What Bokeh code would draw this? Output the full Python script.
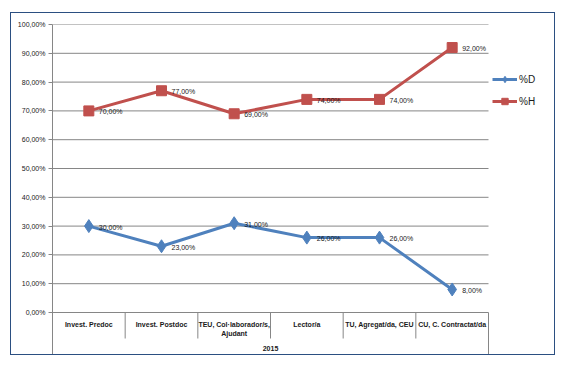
from bokeh.plotting import figure
from bokeh.models import FixedTicker, Legend, LegendItem
from bokeh.core.properties import value
from bokeh.embed import file_html
from bokeh.resources import INLINE

categories = ["Invest. Predoc", "Invest. Postdoc", "TEU, Col·laborador/s,\nAjudant",
              "Lector/a", "TU, Agregat/da, CEU", "CU, C. Contractat/da"]
group_label = "2015"
pct_d = [30, 23, 31, 26, 26, 8]
pct_h = [70, 77, 69, 74, 74, 92]
y_ticks = [0, 10, 20, 30, 40, 50, 60, 70, 80, 90, 100]

FONT = "Liberation Sans"
BLUE = "#4F81BD"
RED = "#C0504D"
GRID = "#868686"
TXT = "#1a1a1a"
BORDER = "#2B4F81"


def fmt(v):
    return f"{v:.2f}".replace(".", ",") + "%"


n = len(categories)
xs = [i + 0.5 for i in range(n)]
dividers = list(range(n + 1))

# layout (pixels)
W, H = 545, 343
LEFT, TOP = 41, 11
frame_w, frame_h = W - LEFT, H - TOP
px_per_cat = 436 / n
px_per_unit = 288 / (y_ticks[-1] - y_ticks[0])
x_max = frame_w / px_per_cat
y_min = y_ticks[-1] - frame_h / px_per_unit

p = figure(width=W, height=H, x_range=(0, x_max), y_range=(y_min, y_ticks[-1]),
           output_backend="svg", toolbar_location=None,
           min_border_left=LEFT, min_border_right=0,
           min_border_top=TOP, min_border_bottom=0)
p.styles = {"border": f"1px solid {BORDER}", "margin-left": "10px", "margin-top": "12px"}
p.outline_line_color = None
p.background_fill_color = "white"
p.border_fill_color = "white"
p.xaxis.visible = False
p.grid.visible = False

# horizontal grid lines across the category span
p.segment(x0=[dividers[0]] * len(y_ticks), y0=y_ticks, x1=[dividers[-1]] * len(y_ticks),
          y1=y_ticks, line_color=GRID, line_width=1)

# y axis
p.yaxis.ticker = FixedTicker(ticks=y_ticks)
p.yaxis.bounds = (y_min, y_ticks[-1])
p.yaxis.major_label_overrides = {t: fmt(t) for t in y_ticks}
p.yaxis.axis_line_color = GRID
p.yaxis.major_tick_line_color = GRID
p.yaxis.major_tick_out = 4
p.yaxis.major_tick_in = 0
p.yaxis.minor_tick_line_color = None
p.yaxis.major_label_standoff = 3
p.yaxis.major_label_text_font = FONT
p.yaxis.major_label_text_font_size = "7px"
p.yaxis.major_label_text_color = TXT

# category table under the plot
div_short = -26 / px_per_unit
p.segment(x0=dividers[1:-1], y0=[0] * (n - 1), x1=dividers[1:-1], y1=[div_short] * (n - 1),
          line_color=GRID, line_width=1)
p.segment(x0=[dividers[-1]], y0=[0], x1=[dividers[-1]], y1=[y_min],
          line_color=GRID, line_width=1)
p.text(xs, [0] * n, text=categories, y_offset=8, text_baseline="top", text_align="center",
       text_font=value(FONT), text_font_size="7px", text_font_style="bold",
       text_color=TXT, text_line_height=1.35)
p.text([n / 2], [0], text=[group_label], y_offset=36, text_baseline="middle",
       text_align="center", text_font=value(FONT), text_font_size="7px",
       text_font_style="bold", text_color=TXT)

# series
ld = p.line(xs, pct_d, line_width=3, color=BLUE)
sd = p.scatter(xs, pct_d, marker="diamond", size=13, color=BLUE)
lh = p.line(xs, pct_h, line_width=3, color=RED)
sh = p.scatter(xs, pct_h, marker="square", size=10, color=RED)

for vals in (pct_d, pct_h):
    p.text(xs, vals, text=[fmt(v) for v in vals], x_offset=10, y_offset=1,
           text_baseline="middle", text_align="left",
           text_font=value(FONT), text_font_size="7px", text_color=TXT)

# legend, to the right of the category span
legend = Legend(items=[LegendItem(label="%D", renderers=[ld, sd]),
                       LegendItem(label="%H", renderers=[lh, sh])],
                location=(440, 247), orientation="vertical",
                border_line_color=None, background_fill_alpha=0,
                padding=0, margin=0, spacing=6, glyph_width=25, glyph_height=16,
                label_standoff=2, label_text_font=FONT, label_text_font_size="10px",
                label_text_color=TXT)
p.add_layout(legend)

open("out.html", "w").write(file_html(p, INLINE))
